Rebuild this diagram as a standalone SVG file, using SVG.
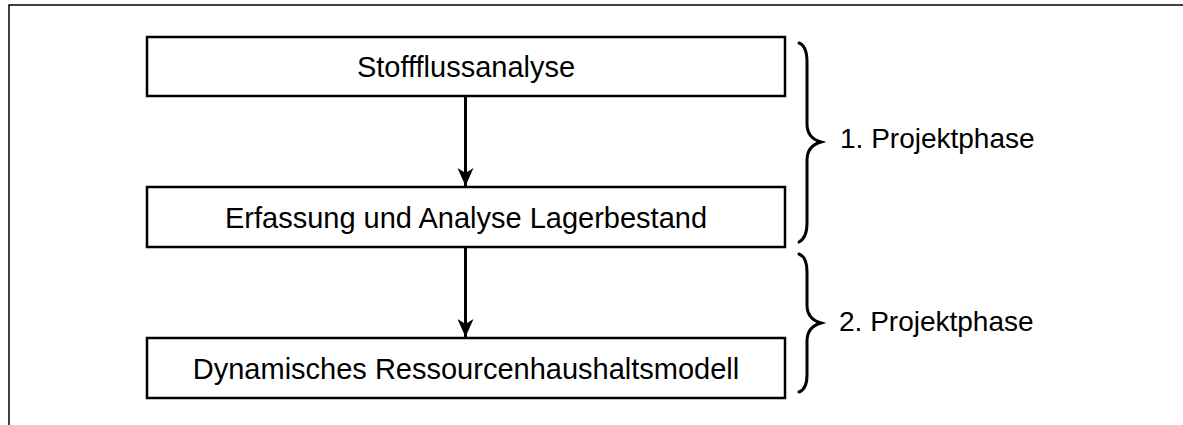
<svg xmlns="http://www.w3.org/2000/svg" width="1183" height="425" viewBox="0 0 1183 425">
  <defs>
    <style>
      .box { fill: #ffffff; stroke: #000000; stroke-width: 2.5; }
      .lbl { font-family: "Liberation Sans", Arial, sans-serif; font-size: 29px; fill: #000000; }
      .ph { font-family: "Liberation Sans", Arial, sans-serif; font-size: 28px; fill: #000000; }
      .conn { stroke: #000000; stroke-width: 3; fill: none; }
      .brace { stroke: #000000; stroke-width: 3; fill: none; stroke-linecap: round; }
      .frame { stroke: #000000; stroke-width: 1.5; fill: none; }
    </style>
    <marker id="arr" markerWidth="18" markerHeight="16" refX="18" refY="8" orient="auto" markerUnits="userSpaceOnUse">
      <path d="M0,0 L18,8 L0,16 L5,8 Z" fill="#000000"/>
    </marker>
  </defs>
  <rect width="1183" height="425" fill="#ffffff"/>
  <path class="frame" d="M9,425 L9,5 L1183,5"/>

  <g id="node-stofffluss">
    <rect class="box" x="147" y="37" width="638" height="59"/>
    <text class="lbl" x="466" y="76.5" text-anchor="middle">Stoffflussanalyse</text>
  </g>
  <g id="node-lager">
    <rect class="box" x="147" y="187" width="638" height="60"/>
    <text class="lbl" x="466" y="227.5" text-anchor="middle">Erfassung und Analyse Lagerbestand</text>
  </g>
  <g id="node-modell">
    <rect class="box" x="147" y="338" width="638" height="60"/>
    <text class="lbl" x="466" y="378.5" text-anchor="middle">Dynamisches Ressourcenhaushaltsmodell</text>
  </g>

  <g id="connectors">
    <line class="conn" x1="465.5" y1="97" x2="465.5" y2="186" marker-end="url(#arr)"/>
    <line class="conn" x1="465.5" y1="248" x2="465.5" y2="337" marker-end="url(#arr)"/>
  </g>

  <g id="phase1">
    <path class="brace" d="M799,43 Q807,46 807,62 L807,124 Q807,138 821,142 Q807,146 807,160 L807,223 Q807,238 799,242"/>
    <text class="ph" x="840" y="148">1. Projektphase</text>
  </g>
  <g id="phase2">
    <path class="brace" d="M799,254 Q807,257 807,272 L807,305 Q807,319 821,323 Q807,327 807,341 L807,375 Q807,389 799,392"/>
    <text class="ph" x="839" y="331">2. Projektphase</text>
  </g>
</svg>
